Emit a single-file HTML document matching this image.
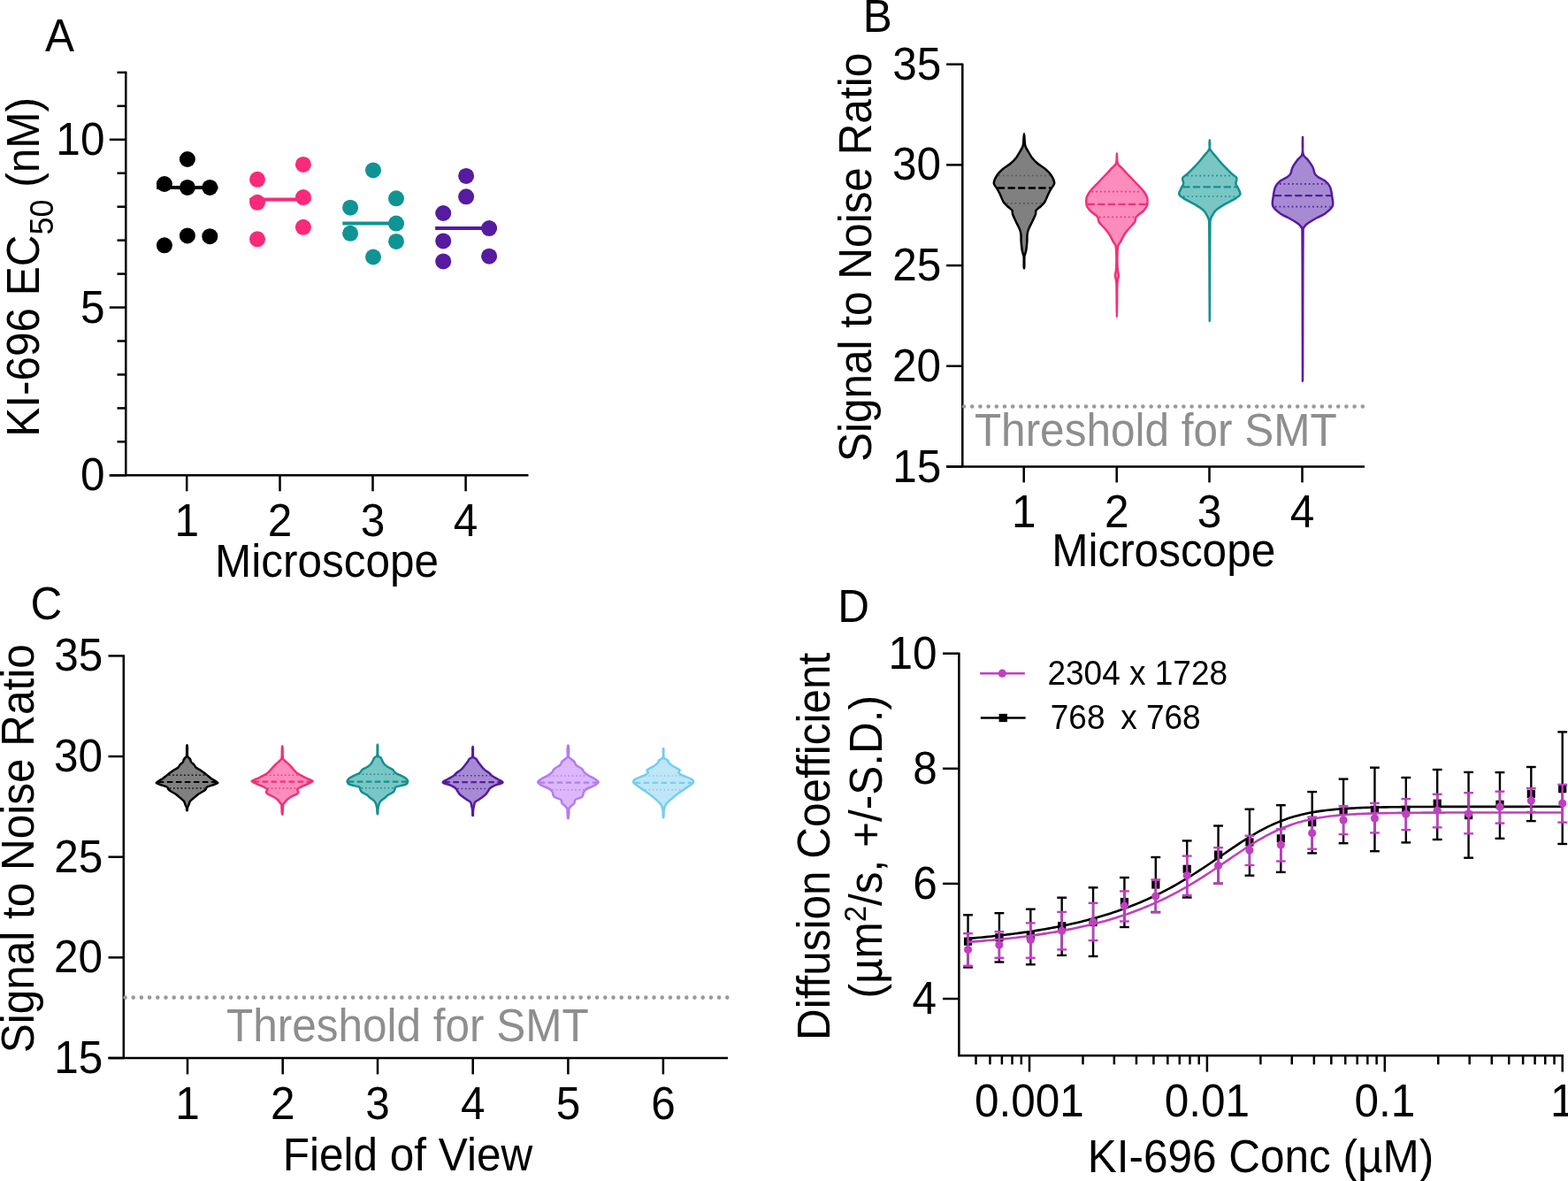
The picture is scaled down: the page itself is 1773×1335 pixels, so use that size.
<!DOCTYPE html>
<html><head><meta charset="utf-8"><title>Figure</title>
<style>
html,body{margin:0;padding:0;background:#fff;}
body{width:1773px;height:1335px;overflow:hidden;}
svg{display:block;font-family:'Liberation Sans', Arial, Helvetica, sans-serif;}
text{white-space:pre;}
</style></head>
<body>
<svg width="1773" height="1335" viewBox="0 0 1773 1335">
<rect width="1773" height="1335" fill="#fff"/>
<line x1="142.30" y1="80.85" x2="142.30" y2="537.30" stroke="#000" stroke-width="2.5"/>
<line x1="123.80" y1="537.30" x2="142.30" y2="537.30" stroke="#000" stroke-width="2.5"/>
<line x1="132.50" y1="499.35" x2="142.30" y2="499.35" stroke="#000" stroke-width="2.5"/>
<line x1="132.50" y1="461.40" x2="142.30" y2="461.40" stroke="#000" stroke-width="2.5"/>
<line x1="132.50" y1="423.45" x2="142.30" y2="423.45" stroke="#000" stroke-width="2.5"/>
<line x1="132.50" y1="385.50" x2="142.30" y2="385.50" stroke="#000" stroke-width="2.5"/>
<line x1="123.80" y1="347.55" x2="142.30" y2="347.55" stroke="#000" stroke-width="2.5"/>
<line x1="132.50" y1="309.60" x2="142.30" y2="309.60" stroke="#000" stroke-width="2.5"/>
<line x1="132.50" y1="271.65" x2="142.30" y2="271.65" stroke="#000" stroke-width="2.5"/>
<line x1="132.50" y1="233.70" x2="142.30" y2="233.70" stroke="#000" stroke-width="2.5"/>
<line x1="132.50" y1="195.75" x2="142.30" y2="195.75" stroke="#000" stroke-width="2.5"/>
<line x1="123.80" y1="157.80" x2="142.30" y2="157.80" stroke="#000" stroke-width="2.5"/>
<line x1="132.50" y1="119.85" x2="142.30" y2="119.85" stroke="#000" stroke-width="2.5"/>
<line x1="132.50" y1="81.90" x2="142.30" y2="81.90" stroke="#000" stroke-width="2.5"/>
<line x1="123.80" y1="537.30" x2="597.50" y2="537.30" stroke="#000" stroke-width="2.5"/>
<line x1="211.20" y1="537.30" x2="211.20" y2="555.30" stroke="#000" stroke-width="2.5"/>
<text transform="translate(197.44,606.00) scale(1,1.04)" font-size="49.5" fill="#000">1</text>
<line x1="316.50" y1="537.30" x2="316.50" y2="555.30" stroke="#000" stroke-width="2.5"/>
<text transform="translate(302.74,606.00) scale(1,1.04)" font-size="49.5" fill="#000">2</text>
<line x1="421.50" y1="537.30" x2="421.50" y2="555.30" stroke="#000" stroke-width="2.5"/>
<text transform="translate(407.74,606.00) scale(1,1.04)" font-size="49.5" fill="#000">3</text>
<line x1="526.60" y1="537.30" x2="526.60" y2="555.30" stroke="#000" stroke-width="2.5"/>
<text transform="translate(512.84,606.00) scale(1,1.04)" font-size="49.5" fill="#000">4</text>
<text transform="translate(90.90,554.30) scale(1,1.04)" font-size="49.5" fill="#000">0</text>
<text transform="translate(91.05,364.55) scale(1,1.04)" font-size="49.5" fill="#000">5</text>
<text transform="translate(63.37,174.80) scale(1,1.04)" font-size="49.5" fill="#000">10</text>
<text transform="translate(243.03,651.80) scale(1,1.04)" font-size="49.5" fill="#000">Microscope</text>
<text transform="translate(51.10,57.50) scale(1,1.04)" font-size="49.5" fill="#000">A</text>
<text transform="translate(44.00,493.76) rotate(-90) scale(1,1.04)" fill="#000"><tspan font-size="49.5" dy="0">KI-696 EC</tspan><tspan font-size="36" dy="15.6">50</tspan><tspan font-size="49.5" dy="-15.6"> (nM)</tspan></text>
<line x1="177.10" y1="211.90" x2="246.40" y2="211.90" stroke="#000000" stroke-width="4.0"/>
<circle cx="211.9" cy="180.0" r="9.0" fill="#000000"/>
<circle cx="185.9" cy="208.0" r="9.0" fill="#000000"/>
<circle cx="211.9" cy="211.9" r="9.0" fill="#000000"/>
<circle cx="237.3" cy="211.9" r="9.0" fill="#000000"/>
<circle cx="185.9" cy="277.3" r="9.0" fill="#000000"/>
<circle cx="211.9" cy="266.4" r="9.0" fill="#000000"/>
<circle cx="237.3" cy="267.2" r="9.0" fill="#000000"/>
<line x1="282.20" y1="225.60" x2="351.50" y2="225.60" stroke="#F92A79" stroke-width="4.0"/>
<circle cx="291.0" cy="202.8" r="9.0" fill="#F92A79"/>
<circle cx="342.9" cy="185.9" r="9.0" fill="#F92A79"/>
<circle cx="291.0" cy="228.8" r="9.0" fill="#F92A79"/>
<circle cx="342.9" cy="223.1" r="9.0" fill="#F92A79"/>
<circle cx="342.9" cy="256.8" r="9.0" fill="#F92A79"/>
<circle cx="291.0" cy="270.3" r="9.0" fill="#F92A79"/>
<line x1="387.30" y1="252.60" x2="456.60" y2="252.60" stroke="#0F9494" stroke-width="4.0"/>
<circle cx="422.0" cy="192.4" r="9.0" fill="#0F9494"/>
<circle cx="396.1" cy="234.7" r="9.0" fill="#0F9494"/>
<circle cx="448.0" cy="224.3" r="9.0" fill="#0F9494"/>
<circle cx="448.0" cy="252.6" r="9.0" fill="#0F9494"/>
<circle cx="396.1" cy="263.8" r="9.0" fill="#0F9494"/>
<circle cx="448.0" cy="272.9" r="9.0" fill="#0F9494"/>
<circle cx="422.0" cy="290.5" r="9.0" fill="#0F9494"/>
<line x1="492.10" y1="258.10" x2="561.60" y2="258.10" stroke="#561BA0" stroke-width="4.0"/>
<circle cx="527.1" cy="198.9" r="9.0" fill="#561BA0"/>
<circle cx="527.1" cy="222.3" r="9.0" fill="#561BA0"/>
<circle cx="501.2" cy="241.0" r="9.0" fill="#561BA0"/>
<circle cx="553.1" cy="258.1" r="9.0" fill="#561BA0"/>
<circle cx="501.2" cy="272.4" r="9.0" fill="#561BA0"/>
<circle cx="553.1" cy="289.7" r="9.0" fill="#561BA0"/>
<circle cx="501.2" cy="295.4" r="9.0" fill="#561BA0"/>
<line x1="1088.30" y1="71.65" x2="1088.30" y2="527.50" stroke="#000" stroke-width="2.5"/>
<line x1="1070.10" y1="527.50" x2="1088.30" y2="527.50" stroke="#000" stroke-width="2.5"/>
<text transform="translate(1009.22,544.50) scale(1,1.04)" font-size="49.5" fill="#000">15</text>
<line x1="1070.10" y1="413.80" x2="1088.30" y2="413.80" stroke="#000" stroke-width="2.5"/>
<text transform="translate(1009.07,430.80) scale(1,1.04)" font-size="49.5" fill="#000">20</text>
<line x1="1070.10" y1="300.10" x2="1088.30" y2="300.10" stroke="#000" stroke-width="2.5"/>
<text transform="translate(1009.22,317.10) scale(1,1.04)" font-size="49.5" fill="#000">25</text>
<line x1="1070.10" y1="186.40" x2="1088.30" y2="186.40" stroke="#000" stroke-width="2.5"/>
<text transform="translate(1009.07,203.40) scale(1,1.04)" font-size="49.5" fill="#000">30</text>
<line x1="1070.10" y1="72.70" x2="1088.30" y2="72.70" stroke="#000" stroke-width="2.5"/>
<text transform="translate(1009.22,89.70) scale(1,1.04)" font-size="49.5" fill="#000">35</text>
<line x1="1070.10" y1="527.50" x2="1543.00" y2="527.50" stroke="#000" stroke-width="2.5"/>
<line x1="1157.70" y1="527.50" x2="1157.70" y2="545.40" stroke="#000" stroke-width="2.5"/>
<text transform="translate(1143.94,596.00) scale(1,1.04)" font-size="49.5" fill="#000">1</text>
<line x1="1262.70" y1="527.50" x2="1262.70" y2="545.40" stroke="#000" stroke-width="2.5"/>
<text transform="translate(1248.94,596.00) scale(1,1.04)" font-size="49.5" fill="#000">2</text>
<line x1="1367.50" y1="527.50" x2="1367.50" y2="545.40" stroke="#000" stroke-width="2.5"/>
<text transform="translate(1353.74,596.00) scale(1,1.04)" font-size="49.5" fill="#000">3</text>
<line x1="1472.50" y1="527.50" x2="1472.50" y2="545.40" stroke="#000" stroke-width="2.5"/>
<text transform="translate(1458.74,596.00) scale(1,1.04)" font-size="49.5" fill="#000">4</text>
<text transform="translate(1189.18,640.10) scale(1,1.04)" font-size="49.5" fill="#000">Microscope</text>
<text transform="translate(975.74,36.00) scale(1,1.04)" font-size="49.5" fill="#000">B</text>
<text transform="translate(985.20,521.95) rotate(-90) scale(1,1.04)" fill="#000"><tspan font-size="49.5" dy="0">Signal to Noise Ratio</tspan></text>
<line x1="1090.00" y1="459.50" x2="1545.00" y2="459.50" stroke="#999999" stroke-width="4.6" stroke-linecap="round" stroke-dasharray="0 9.2"/>
<text transform="translate(1101.89,503.60) scale(1,1.04)" font-size="49.5" fill="#8E8E8E">Threshold for SMT</text>
<path d="M1158.00,151.32 C1158.40,151.32 1158.45,160.92 1159.20,164.20 C1159.95,167.48 1161.12,168.53 1162.50,171.00 C1163.88,173.47 1165.67,176.67 1167.50,179.00 C1169.33,181.33 1171.08,183.00 1173.50,185.00 C1175.92,187.00 1179.50,188.83 1182.00,191.00 C1184.50,193.17 1186.80,195.35 1188.50,198.00 C1190.20,200.65 1192.12,204.47 1192.20,206.90 C1192.28,209.33 1190.12,210.58 1189.00,212.60 C1187.88,214.62 1186.75,216.43 1185.50,219.00 C1184.25,221.57 1182.92,225.67 1181.50,228.00 C1180.08,230.33 1178.67,231.33 1177.00,233.00 C1175.33,234.67 1172.50,236.50 1171.50,238.00 C1170.50,239.50 1171.67,240.00 1171.00,242.00 C1170.33,244.00 1168.58,247.67 1167.50,250.00 C1166.42,252.33 1165.35,254.17 1164.50,256.00 C1163.65,257.83 1162.90,259.33 1162.40,261.00 C1161.90,262.67 1161.67,264.17 1161.50,266.00 C1161.33,267.83 1161.53,269.67 1161.40,272.00 C1161.27,274.33 1160.97,277.83 1160.70,280.00 C1160.43,282.17 1160.15,283.50 1159.80,285.00 C1159.45,286.50 1158.85,287.83 1158.60,289.00 C1158.35,290.17 1158.36,289.80 1158.30,292.00 C1158.24,294.20 1158.34,300.48 1158.25,302.18 C1158.16,303.87 1157.84,303.87 1157.75,302.18 C1157.66,300.48 1157.76,294.20 1157.70,292.00 C1157.64,289.80 1157.65,290.17 1157.40,289.00 C1157.15,287.83 1156.55,286.50 1156.20,285.00 C1155.85,283.50 1155.57,282.17 1155.30,280.00 C1155.03,277.83 1154.73,274.33 1154.60,272.00 C1154.47,269.67 1154.67,267.83 1154.50,266.00 C1154.33,264.17 1154.10,262.67 1153.60,261.00 C1153.10,259.33 1152.35,257.83 1151.50,256.00 C1150.65,254.17 1149.58,252.33 1148.50,250.00 C1147.42,247.67 1145.67,244.00 1145.00,242.00 C1144.33,240.00 1145.50,239.50 1144.50,238.00 C1143.50,236.50 1140.67,234.67 1139.00,233.00 C1137.33,231.33 1135.92,230.33 1134.50,228.00 C1133.08,225.67 1131.75,221.57 1130.50,219.00 C1129.25,216.43 1128.12,214.62 1127.00,212.60 C1125.88,210.58 1123.72,209.33 1123.80,206.90 C1123.88,204.47 1125.80,200.65 1127.50,198.00 C1129.20,195.35 1131.50,193.17 1134.00,191.00 C1136.50,188.83 1140.08,187.00 1142.50,185.00 C1144.92,183.00 1146.67,181.33 1148.50,179.00 C1150.33,176.67 1152.12,173.47 1153.50,171.00 C1154.88,168.53 1156.05,167.48 1156.80,164.20 C1157.55,160.92 1157.60,151.32 1158.00,151.32 Z" fill="#808080" stroke="#000000" stroke-width="2.5" stroke-linejoin="round"/>
<line x1="1127.94" y1="212.50" x2="1188.06" y2="212.50" stroke="#000" stroke-width="2.3" stroke-dasharray="8.2 3.4"/>
<line x1="1129.29" y1="198.50" x2="1186.71" y2="198.50" stroke="#555555" stroke-width="1.7" stroke-dasharray="1.7 3.0"/>
<line x1="1138.21" y1="229.90" x2="1177.79" y2="229.90" stroke="#555555" stroke-width="1.7" stroke-dasharray="1.7 3.0"/>
<path d="M1262.90,173.62 C1263.17,173.62 1262.70,181.70 1263.70,184.50 C1264.70,187.30 1267.23,188.57 1268.90,190.40 C1270.57,192.23 1271.95,193.65 1273.70,195.50 C1275.45,197.35 1277.37,199.35 1279.40,201.50 C1281.43,203.65 1283.90,206.32 1285.90,208.40 C1287.90,210.48 1289.93,212.32 1291.40,214.00 C1292.87,215.68 1293.75,216.93 1294.70,218.50 C1295.65,220.07 1296.63,221.82 1297.10,223.40 C1297.57,224.98 1297.52,226.50 1297.50,228.00 C1297.48,229.50 1297.43,231.07 1297.00,232.40 C1296.57,233.73 1295.78,234.82 1294.90,236.00 C1294.02,237.18 1293.37,238.00 1291.70,239.50 C1290.03,241.00 1286.33,243.08 1284.90,245.00 C1283.47,246.92 1284.52,248.75 1283.10,251.00 C1281.68,253.25 1278.38,256.12 1276.40,258.50 C1274.42,260.88 1272.78,262.80 1271.20,265.30 C1269.62,267.80 1268.08,271.30 1266.90,273.50 C1265.72,275.70 1264.68,275.75 1264.10,278.50 C1263.52,281.25 1263.50,286.42 1263.40,290.00 C1263.30,293.58 1263.42,297.33 1263.50,300.00 C1263.58,302.67 1263.67,304.08 1263.90,306.00 C1264.13,307.92 1264.90,309.83 1264.90,311.50 C1264.90,313.17 1264.17,314.22 1263.90,316.00 C1263.63,317.78 1263.43,318.20 1263.30,322.20 C1263.17,326.20 1263.17,333.95 1263.10,340.00 C1263.03,346.05 1262.97,358.48 1262.90,358.48 C1262.83,358.48 1262.77,346.05 1262.70,340.00 C1262.63,333.95 1262.63,326.20 1262.50,322.20 C1262.37,318.20 1262.17,317.78 1261.90,316.00 C1261.63,314.22 1260.90,313.17 1260.90,311.50 C1260.90,309.83 1261.67,307.92 1261.90,306.00 C1262.13,304.08 1262.22,302.67 1262.30,300.00 C1262.38,297.33 1262.50,293.58 1262.40,290.00 C1262.30,286.42 1262.28,281.25 1261.70,278.50 C1261.12,275.75 1260.08,275.70 1258.90,273.50 C1257.72,271.30 1256.18,267.80 1254.60,265.30 C1253.02,262.80 1251.38,260.88 1249.40,258.50 C1247.42,256.12 1244.12,253.25 1242.70,251.00 C1241.28,248.75 1242.33,246.92 1240.90,245.00 C1239.47,243.08 1235.77,241.00 1234.10,239.50 C1232.43,238.00 1231.78,237.18 1230.90,236.00 C1230.02,234.82 1229.23,233.73 1228.80,232.40 C1228.37,231.07 1228.32,229.50 1228.30,228.00 C1228.28,226.50 1228.23,224.98 1228.70,223.40 C1229.17,221.82 1230.15,220.07 1231.10,218.50 C1232.05,216.93 1232.93,215.68 1234.40,214.00 C1235.87,212.32 1237.90,210.48 1239.90,208.40 C1241.90,206.32 1244.37,203.65 1246.40,201.50 C1248.43,199.35 1250.35,197.35 1252.10,195.50 C1253.85,193.65 1255.23,192.23 1256.90,190.40 C1258.57,188.57 1261.10,187.30 1262.10,184.50 C1263.10,181.70 1262.63,173.62 1262.90,173.62 Z" fill="#FB8CBC" stroke="#F23079" stroke-width="2.5" stroke-linejoin="round"/>
<line x1="1229.63" y1="230.90" x2="1296.17" y2="230.90" stroke="#F23079" stroke-width="2.3" stroke-dasharray="8.2 3.4"/>
<line x1="1234.49" y1="216.60" x2="1291.31" y2="216.60" stroke="#F23079" stroke-width="1.7" stroke-dasharray="1.7 3.0"/>
<line x1="1243.02" y1="245.40" x2="1282.78" y2="245.40" stroke="#F23079" stroke-width="1.7" stroke-dasharray="1.7 3.0"/>
<path d="M1367.80,158.53 C1367.90,158.53 1367.00,165.12 1368.10,168.10 C1369.20,171.08 1371.98,173.38 1374.40,176.40 C1376.82,179.42 1379.58,182.92 1382.60,186.20 C1385.62,189.48 1389.88,193.62 1392.50,196.10 C1395.12,198.58 1397.48,199.17 1398.30,201.10 C1399.12,203.03 1397.13,205.78 1397.40,207.70 C1397.67,209.62 1399.07,210.63 1399.90,212.60 C1400.73,214.57 1402.82,217.58 1402.40,219.50 C1401.98,221.42 1400.25,222.23 1397.40,224.10 C1394.55,225.97 1388.77,228.68 1385.30,230.70 C1381.83,232.72 1378.65,234.65 1376.60,236.20 C1374.55,237.75 1373.98,238.75 1373.00,240.00 C1372.02,241.25 1371.35,242.53 1370.70,243.70 C1370.05,244.87 1369.48,245.87 1369.10,247.00 C1368.72,248.13 1368.53,248.33 1368.40,250.50 C1368.27,252.67 1368.35,251.75 1368.30,260.00 C1368.25,268.25 1368.18,282.82 1368.10,300.00 C1368.02,317.18 1367.90,363.07 1367.80,363.07 C1367.70,363.07 1367.58,317.18 1367.50,300.00 C1367.42,282.82 1367.35,268.25 1367.30,260.00 C1367.25,251.75 1367.33,252.67 1367.20,250.50 C1367.07,248.33 1366.88,248.13 1366.50,247.00 C1366.12,245.87 1365.55,244.87 1364.90,243.70 C1364.25,242.53 1363.58,241.25 1362.60,240.00 C1361.62,238.75 1361.05,237.75 1359.00,236.20 C1356.95,234.65 1353.77,232.72 1350.30,230.70 C1346.83,228.68 1341.05,225.97 1338.20,224.10 C1335.35,222.23 1333.62,221.42 1333.20,219.50 C1332.78,217.58 1334.87,214.57 1335.70,212.60 C1336.53,210.63 1337.93,209.62 1338.20,207.70 C1338.47,205.78 1336.48,203.03 1337.30,201.10 C1338.12,199.17 1340.48,198.58 1343.10,196.10 C1345.72,193.62 1349.98,189.48 1353.00,186.20 C1356.02,182.92 1358.78,179.42 1361.20,176.40 C1363.62,173.38 1366.40,171.08 1367.50,168.10 C1368.60,165.12 1367.70,158.53 1367.80,158.53 Z" fill="#7AC6C5" stroke="#11918F" stroke-width="2.5" stroke-linejoin="round"/>
<line x1="1337.31" y1="211.40" x2="1398.29" y2="211.40" stroke="#11918F" stroke-width="2.3" stroke-dasharray="8.2 3.4"/>
<line x1="1342.20" y1="198.60" x2="1393.40" y2="198.60" stroke="#11918F" stroke-width="1.7" stroke-dasharray="1.7 3.0"/>
<line x1="1337.92" y1="222.00" x2="1397.68" y2="222.00" stroke="#11918F" stroke-width="1.7" stroke-dasharray="1.7 3.0"/>
<path d="M1473.00,154.93 C1473.13,154.93 1472.48,169.47 1473.40,173.70 C1474.32,177.93 1476.65,177.72 1478.50,180.30 C1480.35,182.88 1483.12,186.50 1484.50,189.20 C1485.88,191.90 1485.78,194.67 1486.80,196.50 C1487.82,198.33 1488.73,198.90 1490.60,200.20 C1492.47,201.50 1495.78,202.47 1498.00,204.30 C1500.22,206.13 1502.52,208.20 1503.90,211.20 C1505.28,214.20 1505.85,218.62 1506.30,222.30 C1506.75,225.98 1508.10,230.00 1506.60,233.30 C1505.10,236.60 1500.15,239.98 1497.30,242.10 C1494.45,244.22 1491.97,244.68 1489.50,246.00 C1487.03,247.32 1484.42,248.83 1482.50,250.00 C1480.58,251.17 1479.17,252.08 1478.00,253.00 C1476.83,253.92 1476.18,254.67 1475.50,255.50 C1474.82,256.33 1474.23,256.92 1473.90,258.00 C1473.57,259.08 1473.60,255.00 1473.50,262.00 C1473.40,269.00 1473.38,271.85 1473.30,300.00 C1473.22,328.15 1473.10,430.88 1473.00,430.88 C1472.90,430.88 1472.78,328.15 1472.70,300.00 C1472.62,271.85 1472.60,269.00 1472.50,262.00 C1472.40,255.00 1472.43,259.08 1472.10,258.00 C1471.77,256.92 1471.18,256.33 1470.50,255.50 C1469.82,254.67 1469.17,253.92 1468.00,253.00 C1466.83,252.08 1465.42,251.17 1463.50,250.00 C1461.58,248.83 1458.97,247.32 1456.50,246.00 C1454.03,244.68 1451.55,244.22 1448.70,242.10 C1445.85,239.98 1440.90,236.60 1439.40,233.30 C1437.90,230.00 1439.25,225.98 1439.70,222.30 C1440.15,218.62 1440.72,214.20 1442.10,211.20 C1443.48,208.20 1445.78,206.13 1448.00,204.30 C1450.22,202.47 1453.53,201.50 1455.40,200.20 C1457.27,198.90 1458.18,198.33 1459.20,196.50 C1460.22,194.67 1460.12,191.90 1461.50,189.20 C1462.88,186.50 1465.65,182.88 1467.50,180.30 C1469.35,177.72 1471.68,177.93 1472.60,173.70 C1473.52,169.47 1472.87,154.93 1473.00,154.93 Z" fill="#A68BD2" stroke="#561BA0" stroke-width="2.5" stroke-linejoin="round"/>
<line x1="1440.94" y1="221.20" x2="1505.06" y2="221.20" stroke="#561BA0" stroke-width="2.3" stroke-dasharray="8.2 3.4"/>
<line x1="1446.92" y1="207.90" x2="1499.08" y2="207.90" stroke="#561BA0" stroke-width="1.7" stroke-dasharray="1.7 3.0"/>
<line x1="1441.82" y1="233.70" x2="1504.18" y2="233.70" stroke="#561BA0" stroke-width="1.7" stroke-dasharray="1.7 3.0"/>
<line x1="139.80" y1="740.35" x2="139.80" y2="1196.00" stroke="#000" stroke-width="2.5"/>
<line x1="122.50" y1="1196.00" x2="139.80" y2="1196.00" stroke="#000" stroke-width="2.5"/>
<text transform="translate(61.22,1213.00) scale(1,1.04)" font-size="49.5" fill="#000">15</text>
<line x1="122.50" y1="1082.35" x2="139.80" y2="1082.35" stroke="#000" stroke-width="2.5"/>
<text transform="translate(61.07,1099.35) scale(1,1.04)" font-size="49.5" fill="#000">20</text>
<line x1="122.50" y1="968.70" x2="139.80" y2="968.70" stroke="#000" stroke-width="2.5"/>
<text transform="translate(61.22,985.70) scale(1,1.04)" font-size="49.5" fill="#000">25</text>
<line x1="122.50" y1="855.05" x2="139.80" y2="855.05" stroke="#000" stroke-width="2.5"/>
<text transform="translate(61.07,872.05) scale(1,1.04)" font-size="49.5" fill="#000">30</text>
<line x1="122.50" y1="741.40" x2="139.80" y2="741.40" stroke="#000" stroke-width="2.5"/>
<text transform="translate(61.22,758.40) scale(1,1.04)" font-size="49.5" fill="#000">35</text>
<line x1="122.50" y1="1196.00" x2="823.00" y2="1196.00" stroke="#000" stroke-width="2.5"/>
<line x1="212.00" y1="1196.00" x2="212.00" y2="1214.40" stroke="#000" stroke-width="2.5"/>
<text transform="translate(198.24,1264.60) scale(1,1.04)" font-size="49.5" fill="#000">1</text>
<line x1="319.70" y1="1196.00" x2="319.70" y2="1214.40" stroke="#000" stroke-width="2.5"/>
<text transform="translate(305.94,1264.60) scale(1,1.04)" font-size="49.5" fill="#000">2</text>
<line x1="427.00" y1="1196.00" x2="427.00" y2="1214.40" stroke="#000" stroke-width="2.5"/>
<text transform="translate(413.24,1264.60) scale(1,1.04)" font-size="49.5" fill="#000">3</text>
<line x1="534.70" y1="1196.00" x2="534.70" y2="1214.40" stroke="#000" stroke-width="2.5"/>
<text transform="translate(520.94,1264.60) scale(1,1.04)" font-size="49.5" fill="#000">4</text>
<line x1="642.40" y1="1196.00" x2="642.40" y2="1214.40" stroke="#000" stroke-width="2.5"/>
<text transform="translate(628.64,1264.60) scale(1,1.04)" font-size="49.5" fill="#000">5</text>
<line x1="749.90" y1="1196.00" x2="749.90" y2="1214.40" stroke="#000" stroke-width="2.5"/>
<text transform="translate(736.14,1264.60) scale(1,1.04)" font-size="49.5" fill="#000">6</text>
<text transform="translate(319.83,1323.00) scale(1,1.04)" font-size="49.5" fill="#000">Field of View</text>
<text transform="translate(34.39,699.50) scale(1,1.04)" font-size="49.5" fill="#000">C</text>
<text transform="translate(37.60,1190.25) rotate(-90) scale(1,1.04)" fill="#000"><tspan font-size="49.5" dy="0">Signal to Noise Ratio</tspan></text>
<line x1="141.50" y1="1127.60" x2="826.00" y2="1127.60" stroke="#999999" stroke-width="4.6" stroke-linecap="round" stroke-dasharray="0 9.2"/>
<text transform="translate(255.99,1177.00) scale(1,1.04)" font-size="49.5" fill="#8E8E8E">Threshold for SMT</text>
<path d="M211.80,843.52 C211.92,845.27 211.70,851.92 211.90,854.00 C212.10,856.08 212.45,855.25 213.00,856.00 C213.55,856.75 214.68,857.60 215.20,858.50 C215.72,859.40 215.45,860.48 216.10,861.40 C216.75,862.32 218.15,862.93 219.10,864.00 C220.05,865.07 220.63,866.75 221.80,867.80 C222.97,868.85 224.57,869.32 226.10,870.30 C227.63,871.28 229.40,872.50 231.00,873.70 C232.60,874.90 234.28,876.37 235.70,877.50 C237.12,878.63 238.28,879.67 239.50,880.50 C240.72,881.33 241.97,881.85 243.00,882.50 C244.03,883.15 245.25,883.93 245.70,884.40 C246.15,884.87 246.65,884.77 245.70,885.30 C244.75,885.83 241.95,886.87 240.00,887.60 C238.05,888.33 235.25,888.92 234.00,889.70 C232.75,890.48 233.28,891.45 232.50,892.30 C231.72,893.15 230.68,893.88 229.30,894.80 C227.92,895.72 225.90,896.60 224.20,897.80 C222.50,899.00 220.62,900.73 219.10,902.00 C217.58,903.27 216.03,904.13 215.10,905.40 C214.17,906.67 214.02,908.33 213.50,909.60 C212.98,910.87 212.28,911.95 212.00,913.00 C211.72,914.05 211.93,915.40 211.80,915.88 C211.67,916.35 211.33,916.35 211.20,915.88 C211.07,915.40 211.28,914.05 211.00,913.00 C210.72,911.95 210.02,910.87 209.50,909.60 C208.98,908.33 208.83,906.67 207.90,905.40 C206.97,904.13 205.42,903.27 203.90,902.00 C202.38,900.73 200.50,899.00 198.80,897.80 C197.10,896.60 195.08,895.72 193.70,894.80 C192.32,893.88 191.28,893.15 190.50,892.30 C189.72,891.45 190.25,890.48 189.00,889.70 C187.75,888.92 184.95,888.33 183.00,887.60 C181.05,886.87 178.25,885.83 177.30,885.30 C176.35,884.77 176.85,884.87 177.30,884.40 C177.75,883.93 178.97,883.15 180.00,882.50 C181.03,881.85 182.28,881.33 183.50,880.50 C184.72,879.67 185.88,878.63 187.30,877.50 C188.72,876.37 190.40,874.90 192.00,873.70 C193.60,872.50 195.37,871.28 196.90,870.30 C198.43,869.32 200.03,868.85 201.20,867.80 C202.37,866.75 202.95,865.07 203.90,864.00 C204.85,862.93 206.25,862.32 206.90,861.40 C207.55,860.48 207.28,859.40 207.80,858.50 C208.32,857.60 209.45,856.75 210.00,856.00 C210.55,855.25 210.90,856.08 211.10,854.00 C211.30,851.92 211.08,845.27 211.20,843.52 C211.32,841.78 211.68,841.78 211.80,843.52 Z" fill="#808080" stroke="#000000" stroke-width="2.5" stroke-linejoin="round"/>
<line x1="178.87" y1="884.00" x2="244.13" y2="884.00" stroke="#000000" stroke-width="2.2" stroke-dasharray="6.5 3.5"/>
<line x1="190.91" y1="876.20" x2="232.09" y2="876.20" stroke="#000000" stroke-width="1.5" stroke-dasharray="1.5 2.8"/>
<line x1="191.75" y1="891.00" x2="231.25" y2="891.00" stroke="#000000" stroke-width="1.5" stroke-dasharray="1.5 2.8"/>
<path d="M319.50,844.73 C319.65,846.60 319.52,853.60 319.80,856.00 C320.08,858.40 320.02,857.73 321.20,859.10 C322.38,860.47 325.27,862.60 326.90,864.20 C328.53,865.80 329.67,867.22 331.00,868.70 C332.33,870.18 333.40,871.83 334.90,873.10 C336.40,874.37 338.12,875.23 340.00,876.30 C341.88,877.37 344.03,878.43 346.20,879.50 C348.37,880.57 351.87,882.03 353.00,882.70 C354.13,883.37 353.68,882.97 353.00,883.50 C352.32,884.03 350.65,885.08 348.90,885.90 C347.15,886.72 344.20,887.63 342.50,888.40 C340.80,889.17 339.78,889.87 338.70,890.50 C337.62,891.13 336.20,891.38 336.00,892.20 C335.80,893.02 337.48,894.55 337.50,895.40 C337.52,896.25 337.43,896.45 336.10,897.30 C334.77,898.15 331.38,899.43 329.50,900.50 C327.62,901.57 325.93,902.75 324.80,903.70 C323.67,904.65 323.47,905.25 322.70,906.20 C321.93,907.15 320.67,908.27 320.20,909.40 C319.73,910.53 320.02,911.25 319.90,913.00 C319.78,914.75 319.67,918.73 319.50,919.88 C319.33,921.02 319.07,921.02 318.90,919.88 C318.73,918.73 318.62,914.75 318.50,913.00 C318.38,911.25 318.67,910.53 318.20,909.40 C317.73,908.27 316.47,907.15 315.70,906.20 C314.93,905.25 314.73,904.65 313.60,903.70 C312.47,902.75 310.78,901.57 308.90,900.50 C307.02,899.43 303.63,898.15 302.30,897.30 C300.97,896.45 300.88,896.25 300.90,895.40 C300.92,894.55 302.60,893.02 302.40,892.20 C302.20,891.38 300.78,891.13 299.70,890.50 C298.62,889.87 297.60,889.17 295.90,888.40 C294.20,887.63 291.25,886.72 289.50,885.90 C287.75,885.08 286.08,884.03 285.40,883.50 C284.72,882.97 284.27,883.37 285.40,882.70 C286.53,882.03 290.03,880.57 292.20,879.50 C294.37,878.43 296.52,877.37 298.40,876.30 C300.28,875.23 302.00,874.37 303.50,873.10 C305.00,871.83 306.07,870.18 307.40,868.70 C308.73,867.22 309.87,865.80 311.50,864.20 C313.13,862.60 316.02,860.47 317.20,859.10 C318.38,857.73 318.32,858.40 318.60,856.00 C318.88,853.60 318.75,846.60 318.90,844.73 C319.05,842.85 319.35,842.85 319.50,844.73 Z" fill="#FB8CBC" stroke="#F23079" stroke-width="2.5" stroke-linejoin="round"/>
<line x1="286.57" y1="883.60" x2="351.83" y2="883.60" stroke="#F23079" stroke-width="2.2" stroke-dasharray="6.5 3.5"/>
<line x1="300.56" y1="876.20" x2="337.84" y2="876.20" stroke="#F23079" stroke-width="1.5" stroke-dasharray="1.5 2.8"/>
<line x1="302.49" y1="891.00" x2="335.91" y2="891.00" stroke="#F23079" stroke-width="1.5" stroke-dasharray="1.5 2.8"/>
<path d="M427.20,842.92 C427.33,844.75 426.83,851.64 427.40,853.90 C427.97,856.16 429.82,855.53 430.60,856.50 C431.38,857.47 431.48,858.53 432.10,859.70 C432.72,860.87 433.30,862.33 434.30,863.50 C435.30,864.67 436.50,865.65 438.10,866.70 C439.70,867.75 442.40,868.63 443.90,869.80 C445.40,870.97 445.47,872.52 447.10,873.70 C448.73,874.88 451.70,875.85 453.70,876.90 C455.70,877.95 457.87,878.83 459.10,880.00 C460.33,881.17 461.32,882.73 461.10,883.90 C460.88,885.07 460.05,886.05 457.80,887.00 C455.55,887.95 449.47,888.75 447.60,889.60 C445.73,890.45 447.07,891.15 446.60,892.10 C446.13,893.05 446.07,894.23 444.80,895.30 C443.53,896.37 440.55,897.43 439.00,898.50 C437.45,899.57 436.78,900.63 435.50,901.70 C434.22,902.77 432.40,903.83 431.30,904.90 C430.20,905.97 429.45,907.05 428.90,908.10 C428.35,909.15 428.23,910.22 428.00,911.20 C427.77,912.18 427.63,912.59 427.50,914.00 C427.37,915.41 427.35,918.73 427.20,919.67 C427.05,920.62 426.75,920.62 426.60,919.67 C426.45,918.73 426.43,915.41 426.30,914.00 C426.17,912.59 426.03,912.18 425.80,911.20 C425.57,910.22 425.45,909.15 424.90,908.10 C424.35,907.05 423.60,905.97 422.50,904.90 C421.40,903.83 419.58,902.77 418.30,901.70 C417.02,900.63 416.35,899.57 414.80,898.50 C413.25,897.43 410.27,896.37 409.00,895.30 C407.73,894.23 407.67,893.05 407.20,892.10 C406.73,891.15 408.07,890.45 406.20,889.60 C404.33,888.75 398.25,887.95 396.00,887.00 C393.75,886.05 392.92,885.07 392.70,883.90 C392.48,882.73 393.47,881.17 394.70,880.00 C395.93,878.83 398.10,877.95 400.10,876.90 C402.10,875.85 405.07,874.88 406.70,873.70 C408.33,872.52 408.40,870.97 409.90,869.80 C411.40,868.63 414.10,867.75 415.70,866.70 C417.30,865.65 418.50,864.67 419.50,863.50 C420.50,862.33 421.08,860.87 421.70,859.70 C422.32,858.53 422.42,857.47 423.20,856.50 C423.98,855.53 425.83,856.16 426.40,853.90 C426.97,851.64 426.47,844.75 426.60,842.92 C426.73,841.10 427.07,841.10 427.20,842.92 Z" fill="#7AC6C5" stroke="#11918F" stroke-width="2.5" stroke-linejoin="round"/>
<line x1="393.80" y1="883.70" x2="460.00" y2="883.70" stroke="#11918F" stroke-width="2.2" stroke-dasharray="6.5 3.5"/>
<line x1="405.40" y1="875.30" x2="448.40" y2="875.30" stroke="#11918F" stroke-width="1.5" stroke-dasharray="1.5 2.8"/>
<line x1="408.68" y1="890.80" x2="445.12" y2="890.80" stroke="#11918F" stroke-width="1.5" stroke-dasharray="1.5 2.8"/>
<path d="M534.90,845.23 C535.03,846.90 534.50,853.20 535.10,855.30 C535.70,857.40 537.62,856.85 538.50,857.80 C539.38,858.75 539.50,859.72 540.40,861.00 C541.30,862.28 542.68,864.02 543.90,865.50 C545.12,866.98 546.17,868.52 547.70,869.90 C549.23,871.28 551.52,872.52 553.10,873.80 C554.68,875.08 555.57,876.43 557.20,877.60 C558.83,878.77 561.03,879.63 562.90,880.80 C564.77,881.97 568.98,883.43 568.40,884.60 C567.82,885.77 561.78,886.73 559.40,887.80 C557.02,888.87 555.33,889.95 554.10,891.00 C552.87,892.05 552.70,893.05 552.00,894.10 C551.30,895.15 550.88,896.23 549.90,897.30 C548.92,898.37 547.47,899.43 546.10,900.50 C544.73,901.57 543.18,902.63 541.70,903.70 C540.22,904.77 538.13,905.83 537.20,906.90 C536.27,907.97 536.47,908.52 536.10,910.10 C535.73,911.68 535.20,914.50 535.00,916.40 C534.80,918.30 535.02,920.63 534.90,921.48 C534.78,922.32 534.42,922.32 534.30,921.48 C534.18,920.63 534.40,918.30 534.20,916.40 C534.00,914.50 533.47,911.68 533.10,910.10 C532.73,908.52 532.93,907.97 532.00,906.90 C531.07,905.83 528.98,904.77 527.50,903.70 C526.02,902.63 524.47,901.57 523.10,900.50 C521.73,899.43 520.28,898.37 519.30,897.30 C518.32,896.23 517.90,895.15 517.20,894.10 C516.50,893.05 516.33,892.05 515.10,891.00 C513.87,889.95 512.18,888.87 509.80,887.80 C507.42,886.73 501.38,885.77 500.80,884.60 C500.22,883.43 504.43,881.97 506.30,880.80 C508.17,879.63 510.37,878.77 512.00,877.60 C513.63,876.43 514.52,875.08 516.10,873.80 C517.68,872.52 519.97,871.28 521.50,869.90 C523.03,868.52 524.08,866.98 525.30,865.50 C526.52,864.02 527.90,862.28 528.80,861.00 C529.70,859.72 529.82,858.75 530.70,857.80 C531.58,856.85 533.50,857.40 534.10,855.30 C534.70,853.20 534.17,846.90 534.30,845.23 C534.43,843.55 534.77,843.55 534.90,845.23 Z" fill="#A68BD2" stroke="#561BA0" stroke-width="2.5" stroke-linejoin="round"/>
<line x1="502.38" y1="884.20" x2="566.82" y2="884.20" stroke="#561BA0" stroke-width="2.2" stroke-dasharray="6.5 3.5"/>
<line x1="514.86" y1="876.80" x2="554.34" y2="876.80" stroke="#561BA0" stroke-width="1.5" stroke-dasharray="1.5 2.8"/>
<line x1="517.37" y1="891.40" x2="551.83" y2="891.40" stroke="#561BA0" stroke-width="1.5" stroke-dasharray="1.5 2.8"/>
<path d="M642.80,843.42 C643.00,844.50 643.18,847.97 643.20,849.90 C643.22,851.83 642.67,853.80 642.90,855.00 C643.13,856.20 643.52,856.08 644.60,857.10 C645.68,858.12 648.23,859.78 649.40,861.10 C650.57,862.42 650.18,863.68 651.60,865.00 C653.02,866.32 656.42,867.67 657.90,869.00 C659.38,870.33 659.18,871.68 660.50,873.00 C661.82,874.32 663.87,875.70 665.80,876.90 C667.73,878.10 670.30,878.98 672.10,880.20 C673.90,881.42 676.67,882.88 676.60,884.20 C676.53,885.52 673.98,886.78 671.70,888.10 C669.42,889.42 664.87,890.78 662.90,892.10 C660.93,893.42 660.67,894.58 659.90,896.00 C659.13,897.42 659.83,899.28 658.30,900.60 C656.77,901.92 652.18,902.68 650.70,903.90 C649.22,905.12 650.22,906.68 649.40,907.90 C648.58,909.12 646.80,910.10 645.80,911.20 C644.80,912.30 643.83,913.18 643.40,914.50 C642.97,915.82 643.30,917.45 643.20,919.10 C643.10,920.75 643.00,923.50 642.80,924.38 C642.60,925.25 642.20,925.25 642.00,924.38 C641.80,923.50 641.70,920.75 641.60,919.10 C641.50,917.45 641.83,915.82 641.40,914.50 C640.97,913.18 640.00,912.30 639.00,911.20 C638.00,910.10 636.22,909.12 635.40,907.90 C634.58,906.68 635.58,905.12 634.10,903.90 C632.62,902.68 628.03,901.92 626.50,900.60 C624.97,899.28 625.67,897.42 624.90,896.00 C624.13,894.58 623.87,893.42 621.90,892.10 C619.93,890.78 615.38,889.42 613.10,888.10 C610.82,886.78 608.27,885.52 608.20,884.20 C608.13,882.88 610.90,881.42 612.70,880.20 C614.50,878.98 617.07,878.10 619.00,876.90 C620.93,875.70 622.98,874.32 624.30,873.00 C625.62,871.68 625.42,870.33 626.90,869.00 C628.38,867.67 631.78,866.32 633.20,865.00 C634.62,863.68 634.23,862.42 635.40,861.10 C636.57,859.78 639.12,858.12 640.20,857.10 C641.28,856.08 641.67,856.20 641.90,855.00 C642.13,853.80 641.58,851.83 641.60,849.90 C641.62,847.97 641.80,844.50 642.00,843.42 C642.20,842.35 642.60,842.35 642.80,843.42 Z" fill="#DCB8FB" stroke="#B27CF2" stroke-width="2.5" stroke-linejoin="round"/>
<line x1="609.70" y1="884.60" x2="675.10" y2="884.60" stroke="#B27CF2" stroke-width="2.2" stroke-dasharray="6.5 3.5"/>
<line x1="621.00" y1="876.90" x2="663.80" y2="876.90" stroke="#B27CF2" stroke-width="1.5" stroke-dasharray="1.5 2.8"/>
<line x1="624.36" y1="892.70" x2="660.44" y2="892.70" stroke="#B27CF2" stroke-width="1.5" stroke-dasharray="1.5 2.8"/>
<path d="M750.40,847.02 C750.53,848.55 749.85,854.14 750.60,856.20 C751.35,858.26 753.88,858.33 754.90,859.40 C755.92,860.47 755.57,861.42 756.70,862.60 C757.83,863.78 759.73,865.22 761.70,866.50 C763.67,867.78 767.53,869.12 768.50,870.30 C769.47,871.48 766.82,872.52 767.50,873.60 C768.18,874.68 770.23,875.63 772.60,876.80 C774.97,877.97 779.82,879.32 781.70,880.60 C783.58,881.88 784.33,883.20 783.90,884.50 C783.47,885.80 780.97,887.00 779.10,888.40 C777.23,889.80 774.85,891.40 772.70,892.90 C770.55,894.40 768.20,895.90 766.20,897.40 C764.20,898.90 762.47,900.40 760.70,901.90 C758.93,903.40 757.03,904.90 755.60,906.40 C754.17,907.90 752.90,909.28 752.10,910.90 C751.30,912.52 751.08,914.04 750.80,916.10 C750.52,918.16 750.57,922.08 750.40,923.27 C750.23,924.47 749.97,924.47 749.80,923.27 C749.63,922.08 749.68,918.16 749.40,916.10 C749.12,914.04 748.90,912.52 748.10,910.90 C747.30,909.28 746.03,907.90 744.60,906.40 C743.17,904.90 741.27,903.40 739.50,901.90 C737.73,900.40 736.00,898.90 734.00,897.40 C732.00,895.90 729.65,894.40 727.50,892.90 C725.35,891.40 722.97,889.80 721.10,888.40 C719.23,887.00 716.73,885.80 716.30,884.50 C715.87,883.20 716.62,881.88 718.50,880.60 C720.38,879.32 725.23,877.97 727.60,876.80 C729.97,875.63 732.02,874.68 732.70,873.60 C733.38,872.52 730.73,871.48 731.70,870.30 C732.67,869.12 736.53,867.78 738.50,866.50 C740.47,865.22 742.37,863.78 743.50,862.60 C744.63,861.42 744.28,860.47 745.30,859.40 C746.32,858.33 748.85,858.26 749.60,856.20 C750.35,854.14 749.67,848.55 749.80,847.02 C749.93,845.50 750.27,845.50 750.40,847.02 Z" fill="#BFE6F7" stroke="#74CEF0" stroke-width="2.5" stroke-linejoin="round"/>
<line x1="717.67" y1="884.80" x2="782.53" y2="884.80" stroke="#74CEF0" stroke-width="2.2" stroke-dasharray="6.5 3.5"/>
<line x1="729.36" y1="876.90" x2="770.84" y2="876.90" stroke="#74CEF0" stroke-width="1.5" stroke-dasharray="1.5 2.8"/>
<line x1="729.22" y1="892.70" x2="770.98" y2="892.70" stroke="#74CEF0" stroke-width="1.5" stroke-dasharray="1.5 2.8"/>
<line x1="1084.40" y1="737.65" x2="1084.40" y2="1193.30" stroke="#000" stroke-width="2.5"/>
<line x1="1066.00" y1="1129.00" x2="1084.40" y2="1129.00" stroke="#000" stroke-width="2.5"/>
<text transform="translate(1031.62,1146.00) scale(1,1.04)" font-size="49.5" fill="#000">4</text>
<line x1="1066.00" y1="998.90" x2="1084.40" y2="998.90" stroke="#000" stroke-width="2.5"/>
<text transform="translate(1032.35,1015.90) scale(1,1.04)" font-size="49.5" fill="#000">6</text>
<line x1="1066.00" y1="868.80" x2="1084.40" y2="868.80" stroke="#000" stroke-width="2.5"/>
<text transform="translate(1032.32,885.80) scale(1,1.04)" font-size="49.5" fill="#000">8</text>
<line x1="1066.00" y1="738.70" x2="1084.40" y2="738.70" stroke="#000" stroke-width="2.5"/>
<text transform="translate(1004.57,755.70) scale(1,1.04)" font-size="49.5" fill="#000">10</text>
<line x1="1083.15" y1="1193.30" x2="1768.00" y2="1193.30" stroke="#000" stroke-width="2.5"/>
<line x1="1103.52" y1="1193.30" x2="1103.52" y2="1203.30" stroke="#000" stroke-width="2.5"/>
<line x1="1119.43" y1="1193.30" x2="1119.43" y2="1203.30" stroke="#000" stroke-width="2.5"/>
<line x1="1132.88" y1="1193.30" x2="1132.88" y2="1203.30" stroke="#000" stroke-width="2.5"/>
<line x1="1144.53" y1="1193.30" x2="1144.53" y2="1203.30" stroke="#000" stroke-width="2.5"/>
<line x1="1154.81" y1="1193.30" x2="1154.81" y2="1203.30" stroke="#000" stroke-width="2.5"/>
<line x1="1164.00" y1="1193.30" x2="1164.00" y2="1211.60" stroke="#000" stroke-width="2.5"/>
<line x1="1224.48" y1="1193.30" x2="1224.48" y2="1203.30" stroke="#000" stroke-width="2.5"/>
<line x1="1259.85" y1="1193.30" x2="1259.85" y2="1203.30" stroke="#000" stroke-width="2.5"/>
<line x1="1284.95" y1="1193.30" x2="1284.95" y2="1203.30" stroke="#000" stroke-width="2.5"/>
<line x1="1304.42" y1="1193.30" x2="1304.42" y2="1203.30" stroke="#000" stroke-width="2.5"/>
<line x1="1320.33" y1="1193.30" x2="1320.33" y2="1203.30" stroke="#000" stroke-width="2.5"/>
<line x1="1333.78" y1="1193.30" x2="1333.78" y2="1203.30" stroke="#000" stroke-width="2.5"/>
<line x1="1345.43" y1="1193.30" x2="1345.43" y2="1203.30" stroke="#000" stroke-width="2.5"/>
<line x1="1355.71" y1="1193.30" x2="1355.71" y2="1203.30" stroke="#000" stroke-width="2.5"/>
<line x1="1364.90" y1="1193.30" x2="1364.90" y2="1211.60" stroke="#000" stroke-width="2.5"/>
<line x1="1425.38" y1="1193.30" x2="1425.38" y2="1203.30" stroke="#000" stroke-width="2.5"/>
<line x1="1460.75" y1="1193.30" x2="1460.75" y2="1203.30" stroke="#000" stroke-width="2.5"/>
<line x1="1485.85" y1="1193.30" x2="1485.85" y2="1203.30" stroke="#000" stroke-width="2.5"/>
<line x1="1505.32" y1="1193.30" x2="1505.32" y2="1203.30" stroke="#000" stroke-width="2.5"/>
<line x1="1521.23" y1="1193.30" x2="1521.23" y2="1203.30" stroke="#000" stroke-width="2.5"/>
<line x1="1534.68" y1="1193.30" x2="1534.68" y2="1203.30" stroke="#000" stroke-width="2.5"/>
<line x1="1546.33" y1="1193.30" x2="1546.33" y2="1203.30" stroke="#000" stroke-width="2.5"/>
<line x1="1556.61" y1="1193.30" x2="1556.61" y2="1203.30" stroke="#000" stroke-width="2.5"/>
<line x1="1565.80" y1="1193.30" x2="1565.80" y2="1211.60" stroke="#000" stroke-width="2.5"/>
<line x1="1626.28" y1="1193.30" x2="1626.28" y2="1203.30" stroke="#000" stroke-width="2.5"/>
<line x1="1661.65" y1="1193.30" x2="1661.65" y2="1203.30" stroke="#000" stroke-width="2.5"/>
<line x1="1686.75" y1="1193.30" x2="1686.75" y2="1203.30" stroke="#000" stroke-width="2.5"/>
<line x1="1706.22" y1="1193.30" x2="1706.22" y2="1203.30" stroke="#000" stroke-width="2.5"/>
<line x1="1722.13" y1="1193.30" x2="1722.13" y2="1203.30" stroke="#000" stroke-width="2.5"/>
<line x1="1735.58" y1="1193.30" x2="1735.58" y2="1203.30" stroke="#000" stroke-width="2.5"/>
<line x1="1747.23" y1="1193.30" x2="1747.23" y2="1203.30" stroke="#000" stroke-width="2.5"/>
<line x1="1757.51" y1="1193.30" x2="1757.51" y2="1203.30" stroke="#000" stroke-width="2.5"/>
<line x1="1766.70" y1="1193.30" x2="1766.70" y2="1211.60" stroke="#000" stroke-width="2.5"/>
<text transform="translate(1102.06,1262.00) scale(1,1.04)" font-size="49.5" fill="#000">0.001</text>
<text transform="translate(1316.73,1262.00) scale(1,1.04)" font-size="49.5" fill="#000">0.01</text>
<text transform="translate(1531.39,1262.00) scale(1,1.04)" font-size="49.5" fill="#000">0.1</text>
<text transform="translate(1752.94,1262.00) scale(1,1.04)" font-size="49.5" fill="#000">1</text>
<text transform="translate(1229.74,1324.70) scale(1,1.04)" font-size="49.5" fill="#000">KI-696 Conc (µM)</text>
<text transform="translate(947.14,702.70) scale(1,1.04)" font-size="49.5" fill="#000">D</text>
<text transform="translate(937.90,1176.06) rotate(-90) scale(1,1.04)" fill="#000"><tspan font-size="49.5" dy="0">Diffusion Coefficient</tspan></text>
<text transform="translate(996.50,1128.47) rotate(-90) scale(1,1.04)" fill="#000"><tspan font-size="49.5" dy="0">(µm</tspan><tspan font-size="33" dy="-17">2</tspan><tspan font-size="49.5" dy="17">/s, +/-S.D.)</tspan></text>
<line x1="1108.10" y1="761.20" x2="1158.90" y2="761.20" stroke="#C040C0" stroke-width="2.4"/>
<circle cx="1133.3" cy="761.2" r="4.6" fill="#C040C0"/>
<line x1="1108.80" y1="811.50" x2="1159.60" y2="811.50" stroke="#000" stroke-width="2.4"/>
<rect x="1129.6" y="806.9" width="9.4" height="9.2" fill="#000"/>
<text transform="translate(1184.44,774.30) scale(1,1.04)" font-size="37" fill="#000">2304 x 1728</text>
<text transform="translate(1187.80,824.20) scale(1,1.04)" font-size="37" fill="#000">768</text>
<text transform="translate(1267.18,824.20) scale(1,1.04)" font-size="37" fill="#000">x 768</text>
<path d="M1094.54,1060.92 L1097.90,1060.64 L1101.26,1060.35 L1104.62,1060.05 L1107.99,1059.74 L1111.35,1059.43 L1114.71,1059.10 L1118.07,1058.77 L1121.43,1058.42 L1124.79,1058.07 L1128.15,1057.71 L1131.51,1057.33 L1134.87,1056.94 L1138.23,1056.55 L1141.59,1056.14 L1144.95,1055.72 L1148.31,1055.29 L1151.68,1054.84 L1155.04,1054.38 L1158.40,1053.91 L1161.76,1053.43 L1165.12,1052.93 L1168.48,1052.42 L1171.84,1051.89 L1175.20,1051.35 L1178.56,1050.79 L1181.92,1050.21 L1185.28,1049.62 L1188.64,1049.02 L1192.00,1048.39 L1195.37,1047.75 L1198.73,1047.08 L1202.09,1046.40 L1205.45,1045.70 L1208.81,1044.98 L1212.17,1044.24 L1215.53,1043.48 L1218.89,1042.69 L1222.25,1041.89 L1225.61,1041.06 L1228.97,1040.20 L1232.33,1039.32 L1235.70,1038.42 L1239.06,1037.49 L1242.42,1036.54 L1245.78,1035.55 L1249.14,1034.54 L1252.50,1033.50 L1255.86,1032.44 L1259.22,1031.34 L1262.58,1030.21 L1265.94,1029.05 L1269.30,1027.86 L1272.66,1026.63 L1276.02,1025.37 L1279.39,1024.08 L1282.75,1022.75 L1286.11,1021.39 L1289.47,1019.99 L1292.83,1018.55 L1296.19,1017.07 L1299.55,1015.56 L1302.91,1014.00 L1306.27,1012.41 L1309.63,1010.77 L1312.99,1009.10 L1316.35,1007.38 L1319.71,1005.63 L1323.08,1003.83 L1326.44,1001.99 L1329.80,1000.11 L1333.16,998.19 L1336.52,996.23 L1339.88,994.23 L1343.24,992.19 L1346.60,990.12 L1349.96,988.01 L1353.32,985.86 L1356.68,983.69 L1360.04,981.48 L1363.41,979.25 L1366.77,977.00 L1370.13,974.72 L1373.49,972.43 L1376.85,970.13 L1380.21,967.82 L1383.57,965.51 L1386.93,963.20 L1390.29,960.90 L1393.65,958.61 L1397.01,956.35 L1400.37,954.11 L1403.73,951.90 L1407.10,949.73 L1410.46,947.61 L1413.82,945.54 L1417.18,943.52 L1420.54,941.56 L1423.90,939.67 L1427.26,937.84 L1430.62,936.09 L1433.98,934.41 L1437.34,932.81 L1440.70,931.29 L1444.06,929.84 L1447.42,928.48 L1450.79,927.19 L1454.15,925.98 L1457.51,924.85 L1460.87,923.79 L1464.23,922.80 L1467.59,921.88 L1470.95,921.03 L1474.31,920.24 L1477.67,919.51 L1481.03,918.84 L1484.39,918.22 L1487.75,917.65 L1491.12,917.12 L1494.48,916.65 L1497.84,916.21 L1501.20,915.81 L1504.56,915.44 L1507.92,915.10 L1511.28,914.80 L1514.64,914.52 L1518.00,914.27 L1521.36,914.04 L1524.72,913.83 L1528.08,913.64 L1531.44,913.47 L1534.81,913.31 L1538.17,913.17 L1541.53,913.04 L1544.89,912.92 L1548.25,912.82 L1551.61,912.72 L1554.97,912.64 L1558.33,912.56 L1561.69,912.49 L1565.05,912.42 L1568.41,912.37 L1571.77,912.31 L1575.13,912.27 L1578.50,912.22 L1581.86,912.18 L1585.22,912.15 L1588.58,912.12 L1591.94,912.09 L1595.30,912.06 L1598.66,912.04 L1602.02,912.02 L1605.38,912.00 L1608.74,911.98 L1612.10,911.97 L1615.46,911.95 L1618.83,911.94 L1622.19,911.93 L1625.55,911.92 L1628.91,911.91 L1632.27,911.90 L1635.63,911.89 L1638.99,911.88 L1642.35,911.88 L1645.71,911.87 L1649.07,911.87 L1652.43,911.86 L1655.79,911.86 L1659.15,911.86 L1662.52,911.85 L1665.88,911.85 L1669.24,911.85 L1672.60,911.84 L1675.96,911.84 L1679.32,911.84 L1682.68,911.84 L1686.04,911.84 L1689.40,911.83 L1692.76,911.83 L1696.12,911.83 L1699.48,911.83 L1702.84,911.83 L1706.21,911.83 L1709.57,911.83 L1712.93,911.83 L1716.29,911.83 L1719.65,911.83 L1723.01,911.83 L1726.37,911.82 L1729.73,911.82 L1733.09,911.82 L1736.45,911.82 L1739.81,911.82 L1743.17,911.82 L1746.54,911.82 L1749.90,911.82 L1753.26,911.82 L1756.62,911.82 L1759.98,911.82 L1763.34,911.82 L1766.70,911.82" fill="none" stroke="#000" stroke-width="2.6"/>
<line x1="1094.54" y1="1034.30" x2="1094.54" y2="1093.50" stroke="#000" stroke-width="2.4"/>
<line x1="1089.14" y1="1034.30" x2="1099.94" y2="1034.30" stroke="#000" stroke-width="2.4"/>
<line x1="1089.14" y1="1093.50" x2="1099.94" y2="1093.50" stroke="#000" stroke-width="2.4"/>
<line x1="1129.92" y1="1032.20" x2="1129.92" y2="1087.50" stroke="#000" stroke-width="2.4"/>
<line x1="1124.52" y1="1032.20" x2="1135.32" y2="1032.20" stroke="#000" stroke-width="2.4"/>
<line x1="1124.52" y1="1087.50" x2="1135.32" y2="1087.50" stroke="#000" stroke-width="2.4"/>
<line x1="1165.30" y1="1027.70" x2="1165.30" y2="1090.30" stroke="#000" stroke-width="2.4"/>
<line x1="1159.90" y1="1027.70" x2="1170.70" y2="1027.70" stroke="#000" stroke-width="2.4"/>
<line x1="1159.90" y1="1090.30" x2="1170.70" y2="1090.30" stroke="#000" stroke-width="2.4"/>
<line x1="1200.67" y1="1014.70" x2="1200.67" y2="1079.90" stroke="#000" stroke-width="2.4"/>
<line x1="1195.27" y1="1014.70" x2="1206.07" y2="1014.70" stroke="#000" stroke-width="2.4"/>
<line x1="1195.27" y1="1079.90" x2="1206.07" y2="1079.90" stroke="#000" stroke-width="2.4"/>
<line x1="1236.05" y1="1003.30" x2="1236.05" y2="1081.00" stroke="#000" stroke-width="2.4"/>
<line x1="1230.65" y1="1003.30" x2="1241.45" y2="1003.30" stroke="#000" stroke-width="2.4"/>
<line x1="1230.65" y1="1081.00" x2="1241.45" y2="1081.00" stroke="#000" stroke-width="2.4"/>
<line x1="1271.43" y1="992.00" x2="1271.43" y2="1048.00" stroke="#000" stroke-width="2.4"/>
<line x1="1266.03" y1="992.00" x2="1276.83" y2="992.00" stroke="#000" stroke-width="2.4"/>
<line x1="1266.03" y1="1048.00" x2="1276.83" y2="1048.00" stroke="#000" stroke-width="2.4"/>
<line x1="1306.80" y1="969.00" x2="1306.80" y2="1031.00" stroke="#000" stroke-width="2.4"/>
<line x1="1301.40" y1="969.00" x2="1312.20" y2="969.00" stroke="#000" stroke-width="2.4"/>
<line x1="1301.40" y1="1031.00" x2="1312.20" y2="1031.00" stroke="#000" stroke-width="2.4"/>
<line x1="1342.18" y1="950.40" x2="1342.18" y2="1014.50" stroke="#000" stroke-width="2.4"/>
<line x1="1336.78" y1="950.40" x2="1347.58" y2="950.40" stroke="#000" stroke-width="2.4"/>
<line x1="1336.78" y1="1014.50" x2="1347.58" y2="1014.50" stroke="#000" stroke-width="2.4"/>
<line x1="1377.56" y1="933.50" x2="1377.56" y2="998.70" stroke="#000" stroke-width="2.4"/>
<line x1="1372.16" y1="933.50" x2="1382.96" y2="933.50" stroke="#000" stroke-width="2.4"/>
<line x1="1372.16" y1="998.70" x2="1382.96" y2="998.70" stroke="#000" stroke-width="2.4"/>
<line x1="1412.93" y1="914.70" x2="1412.93" y2="989.70" stroke="#000" stroke-width="2.4"/>
<line x1="1407.53" y1="914.70" x2="1418.33" y2="914.70" stroke="#000" stroke-width="2.4"/>
<line x1="1407.53" y1="989.70" x2="1418.33" y2="989.70" stroke="#000" stroke-width="2.4"/>
<line x1="1448.31" y1="910.20" x2="1448.31" y2="985.90" stroke="#000" stroke-width="2.4"/>
<line x1="1442.91" y1="910.20" x2="1453.71" y2="910.20" stroke="#000" stroke-width="2.4"/>
<line x1="1442.91" y1="985.90" x2="1453.71" y2="985.90" stroke="#000" stroke-width="2.4"/>
<line x1="1483.69" y1="895.10" x2="1483.69" y2="964.40" stroke="#000" stroke-width="2.4"/>
<line x1="1478.29" y1="895.10" x2="1489.09" y2="895.10" stroke="#000" stroke-width="2.4"/>
<line x1="1478.29" y1="964.40" x2="1489.09" y2="964.40" stroke="#000" stroke-width="2.4"/>
<line x1="1519.06" y1="880.60" x2="1519.06" y2="953.20" stroke="#000" stroke-width="2.4"/>
<line x1="1513.66" y1="880.60" x2="1524.46" y2="880.60" stroke="#000" stroke-width="2.4"/>
<line x1="1513.66" y1="953.20" x2="1524.46" y2="953.20" stroke="#000" stroke-width="2.4"/>
<line x1="1554.44" y1="867.70" x2="1554.44" y2="962.20" stroke="#000" stroke-width="2.4"/>
<line x1="1549.04" y1="867.70" x2="1559.84" y2="867.70" stroke="#000" stroke-width="2.4"/>
<line x1="1549.04" y1="962.20" x2="1559.84" y2="962.20" stroke="#000" stroke-width="2.4"/>
<line x1="1589.82" y1="879.00" x2="1589.82" y2="952.40" stroke="#000" stroke-width="2.4"/>
<line x1="1584.42" y1="879.00" x2="1595.22" y2="879.00" stroke="#000" stroke-width="2.4"/>
<line x1="1584.42" y1="952.40" x2="1595.22" y2="952.40" stroke="#000" stroke-width="2.4"/>
<line x1="1625.19" y1="870.00" x2="1625.19" y2="949.00" stroke="#000" stroke-width="2.4"/>
<line x1="1619.79" y1="870.00" x2="1630.59" y2="870.00" stroke="#000" stroke-width="2.4"/>
<line x1="1619.79" y1="949.00" x2="1630.59" y2="949.00" stroke="#000" stroke-width="2.4"/>
<line x1="1660.57" y1="872.90" x2="1660.57" y2="969.70" stroke="#000" stroke-width="2.4"/>
<line x1="1655.17" y1="872.90" x2="1665.97" y2="872.90" stroke="#000" stroke-width="2.4"/>
<line x1="1655.17" y1="969.70" x2="1665.97" y2="969.70" stroke="#000" stroke-width="2.4"/>
<line x1="1695.95" y1="873.10" x2="1695.95" y2="947.80" stroke="#000" stroke-width="2.4"/>
<line x1="1690.55" y1="873.10" x2="1701.35" y2="873.10" stroke="#000" stroke-width="2.4"/>
<line x1="1690.55" y1="947.80" x2="1701.35" y2="947.80" stroke="#000" stroke-width="2.4"/>
<line x1="1731.32" y1="867.00" x2="1731.32" y2="928.10" stroke="#000" stroke-width="2.4"/>
<line x1="1725.92" y1="867.00" x2="1736.72" y2="867.00" stroke="#000" stroke-width="2.4"/>
<line x1="1725.92" y1="928.10" x2="1736.72" y2="928.10" stroke="#000" stroke-width="2.4"/>
<line x1="1766.70" y1="827.40" x2="1766.70" y2="954.00" stroke="#000" stroke-width="2.4"/>
<line x1="1761.30" y1="827.40" x2="1772.10" y2="827.40" stroke="#000" stroke-width="2.4"/>
<line x1="1761.30" y1="954.00" x2="1772.10" y2="954.00" stroke="#000" stroke-width="2.4"/>
<rect x="1089.94" y="1059.60" width="9.2" height="9.2" fill="#000"/>
<rect x="1125.32" y="1055.10" width="9.2" height="9.2" fill="#000"/>
<rect x="1160.70" y="1052.80" width="9.2" height="9.2" fill="#000"/>
<rect x="1196.07" y="1042.00" width="9.2" height="9.2" fill="#000"/>
<rect x="1231.45" y="1037.90" width="9.2" height="9.2" fill="#000"/>
<rect x="1266.83" y="1014.90" width="9.2" height="9.2" fill="#000"/>
<rect x="1302.20" y="995.40" width="9.2" height="9.2" fill="#000"/>
<rect x="1337.58" y="977.70" width="9.2" height="9.2" fill="#000"/>
<rect x="1372.96" y="961.50" width="9.2" height="9.2" fill="#000"/>
<rect x="1408.33" y="947.40" width="9.2" height="9.2" fill="#000"/>
<rect x="1443.71" y="943.20" width="9.2" height="9.2" fill="#000"/>
<rect x="1479.09" y="925.00" width="9.2" height="9.2" fill="#000"/>
<rect x="1514.46" y="912.60" width="9.2" height="9.2" fill="#000"/>
<rect x="1549.84" y="910.80" width="9.2" height="9.2" fill="#000"/>
<rect x="1585.22" y="910.80" width="9.2" height="9.2" fill="#000"/>
<rect x="1620.59" y="903.60" width="9.2" height="9.2" fill="#000"/>
<rect x="1655.97" y="917.00" width="9.2" height="9.2" fill="#000"/>
<rect x="1691.35" y="904.70" width="9.2" height="9.2" fill="#000"/>
<rect x="1726.72" y="892.80" width="9.2" height="9.2" fill="#000"/>
<rect x="1762.10" y="887.10" width="9.2" height="9.2" fill="#000"/>
<path d="M1094.54,1064.92 L1097.90,1064.67 L1101.26,1064.41 L1104.62,1064.15 L1107.99,1063.88 L1111.35,1063.60 L1114.71,1063.31 L1118.07,1063.01 L1121.43,1062.71 L1124.79,1062.39 L1128.15,1062.07 L1131.51,1061.74 L1134.87,1061.39 L1138.23,1061.04 L1141.59,1060.68 L1144.95,1060.30 L1148.31,1059.92 L1151.68,1059.52 L1155.04,1059.11 L1158.40,1058.69 L1161.76,1058.25 L1165.12,1057.81 L1168.48,1057.35 L1171.84,1056.87 L1175.20,1056.39 L1178.56,1055.89 L1181.92,1055.37 L1185.28,1054.84 L1188.64,1054.29 L1192.00,1053.72 L1195.37,1053.14 L1198.73,1052.55 L1202.09,1051.93 L1205.45,1051.30 L1208.81,1050.64 L1212.17,1049.97 L1215.53,1049.28 L1218.89,1048.57 L1222.25,1047.83 L1225.61,1047.08 L1228.97,1046.30 L1232.33,1045.50 L1235.70,1044.68 L1239.06,1043.83 L1242.42,1042.96 L1245.78,1042.06 L1249.14,1041.14 L1252.50,1040.18 L1255.86,1039.21 L1259.22,1038.20 L1262.58,1037.16 L1265.94,1036.09 L1269.30,1035.00 L1272.66,1033.87 L1276.02,1032.71 L1279.39,1031.51 L1282.75,1030.28 L1286.11,1029.02 L1289.47,1027.72 L1292.83,1026.39 L1296.19,1025.02 L1299.55,1023.61 L1302.91,1022.16 L1306.27,1020.67 L1309.63,1019.15 L1312.99,1017.58 L1316.35,1015.97 L1319.71,1014.33 L1323.08,1012.64 L1326.44,1010.90 L1329.80,1009.13 L1333.16,1007.31 L1336.52,1005.46 L1339.88,1003.56 L1343.24,1001.62 L1346.60,999.64 L1349.96,997.62 L1353.32,995.56 L1356.68,993.47 L1360.04,991.34 L1363.41,989.18 L1366.77,986.99 L1370.13,984.77 L1373.49,982.52 L1376.85,980.26 L1380.21,977.98 L1383.57,975.69 L1386.93,973.39 L1390.29,971.08 L1393.65,968.79 L1397.01,966.50 L1400.37,964.22 L1403.73,961.97 L1407.10,959.74 L1410.46,957.54 L1413.82,955.39 L1417.18,953.28 L1420.54,951.23 L1423.90,949.23 L1427.26,947.29 L1430.62,945.42 L1433.98,943.61 L1437.34,941.89 L1440.70,940.23 L1444.06,938.66 L1447.42,937.17 L1450.79,935.75 L1454.15,934.42 L1457.51,933.16 L1460.87,931.99 L1464.23,930.88 L1467.59,929.86 L1470.95,928.90 L1474.31,928.01 L1477.67,927.19 L1481.03,926.43 L1484.39,925.73 L1487.75,925.09 L1491.12,924.50 L1494.48,923.95 L1497.84,923.45 L1501.20,923.00 L1504.56,922.58 L1507.92,922.20 L1511.28,921.86 L1514.64,921.54 L1518.00,921.25 L1521.36,920.99 L1524.72,920.76 L1528.08,920.54 L1531.44,920.34 L1534.81,920.17 L1538.17,920.01 L1541.53,919.86 L1544.89,919.73 L1548.25,919.61 L1551.61,919.50 L1554.97,919.41 L1558.33,919.32 L1561.69,919.24 L1565.05,919.17 L1568.41,919.10 L1571.77,919.04 L1575.13,918.99 L1578.50,918.94 L1581.86,918.90 L1585.22,918.86 L1588.58,918.82 L1591.94,918.79 L1595.30,918.76 L1598.66,918.74 L1602.02,918.71 L1605.38,918.69 L1608.74,918.67 L1612.10,918.66 L1615.46,918.64 L1618.83,918.63 L1622.19,918.61 L1625.55,918.60 L1628.91,918.59 L1632.27,918.58 L1635.63,918.57 L1638.99,918.57 L1642.35,918.56 L1645.71,918.55 L1649.07,918.55 L1652.43,918.54 L1655.79,918.54 L1659.15,918.53 L1662.52,918.53 L1665.88,918.53 L1669.24,918.52 L1672.60,918.52 L1675.96,918.52 L1679.32,918.52 L1682.68,918.52 L1686.04,918.51 L1689.40,918.51 L1692.76,918.51 L1696.12,918.51 L1699.48,918.51 L1702.84,918.51 L1706.21,918.51 L1709.57,918.51 L1712.93,918.50 L1716.29,918.50 L1719.65,918.50 L1723.01,918.50 L1726.37,918.50 L1729.73,918.50 L1733.09,918.50 L1736.45,918.50 L1739.81,918.50 L1743.17,918.50 L1746.54,918.50 L1749.90,918.50 L1753.26,918.50 L1756.62,918.50 L1759.98,918.50 L1763.34,918.50 L1766.70,918.50" fill="none" stroke="#C040C0" stroke-width="2.6"/>
<line x1="1094.54" y1="1055.20" x2="1094.54" y2="1091.70" stroke="#C040C0" stroke-width="2.4"/>
<line x1="1089.14" y1="1055.20" x2="1099.94" y2="1055.20" stroke="#C040C0" stroke-width="2.4"/>
<line x1="1089.14" y1="1091.70" x2="1099.94" y2="1091.70" stroke="#C040C0" stroke-width="2.4"/>
<line x1="1129.92" y1="1053.20" x2="1129.92" y2="1082.80" stroke="#C040C0" stroke-width="2.4"/>
<line x1="1124.52" y1="1053.20" x2="1135.32" y2="1053.20" stroke="#C040C0" stroke-width="2.4"/>
<line x1="1124.52" y1="1082.80" x2="1135.32" y2="1082.80" stroke="#C040C0" stroke-width="2.4"/>
<line x1="1165.30" y1="1043.40" x2="1165.30" y2="1082.80" stroke="#C040C0" stroke-width="2.4"/>
<line x1="1159.90" y1="1043.40" x2="1170.70" y2="1043.40" stroke="#C040C0" stroke-width="2.4"/>
<line x1="1159.90" y1="1082.80" x2="1170.70" y2="1082.80" stroke="#C040C0" stroke-width="2.4"/>
<line x1="1200.67" y1="1030.90" x2="1200.67" y2="1073.40" stroke="#C040C0" stroke-width="2.4"/>
<line x1="1195.27" y1="1030.90" x2="1206.07" y2="1030.90" stroke="#C040C0" stroke-width="2.4"/>
<line x1="1195.27" y1="1073.40" x2="1206.07" y2="1073.40" stroke="#C040C0" stroke-width="2.4"/>
<line x1="1236.05" y1="1020.80" x2="1236.05" y2="1063.10" stroke="#C040C0" stroke-width="2.4"/>
<line x1="1230.65" y1="1020.80" x2="1241.45" y2="1020.80" stroke="#C040C0" stroke-width="2.4"/>
<line x1="1230.65" y1="1063.10" x2="1241.45" y2="1063.10" stroke="#C040C0" stroke-width="2.4"/>
<line x1="1271.43" y1="1007.40" x2="1271.43" y2="1041.50" stroke="#C040C0" stroke-width="2.4"/>
<line x1="1266.03" y1="1007.40" x2="1276.83" y2="1007.40" stroke="#C040C0" stroke-width="2.4"/>
<line x1="1266.03" y1="1041.50" x2="1276.83" y2="1041.50" stroke="#C040C0" stroke-width="2.4"/>
<line x1="1306.80" y1="994.40" x2="1306.80" y2="1031.40" stroke="#C040C0" stroke-width="2.4"/>
<line x1="1301.40" y1="994.40" x2="1312.20" y2="994.40" stroke="#C040C0" stroke-width="2.4"/>
<line x1="1301.40" y1="1031.40" x2="1312.20" y2="1031.40" stroke="#C040C0" stroke-width="2.4"/>
<line x1="1342.18" y1="967.60" x2="1342.18" y2="1011.90" stroke="#C040C0" stroke-width="2.4"/>
<line x1="1336.78" y1="967.60" x2="1347.58" y2="967.60" stroke="#C040C0" stroke-width="2.4"/>
<line x1="1336.78" y1="1011.90" x2="1347.58" y2="1011.90" stroke="#C040C0" stroke-width="2.4"/>
<line x1="1377.56" y1="958.20" x2="1377.56" y2="999.10" stroke="#C040C0" stroke-width="2.4"/>
<line x1="1372.16" y1="958.20" x2="1382.96" y2="958.20" stroke="#C040C0" stroke-width="2.4"/>
<line x1="1372.16" y1="999.10" x2="1382.96" y2="999.10" stroke="#C040C0" stroke-width="2.4"/>
<line x1="1412.93" y1="944.80" x2="1412.93" y2="978.00" stroke="#C040C0" stroke-width="2.4"/>
<line x1="1407.53" y1="944.80" x2="1418.33" y2="944.80" stroke="#C040C0" stroke-width="2.4"/>
<line x1="1407.53" y1="978.00" x2="1418.33" y2="978.00" stroke="#C040C0" stroke-width="2.4"/>
<line x1="1448.31" y1="937.10" x2="1448.31" y2="973.50" stroke="#C040C0" stroke-width="2.4"/>
<line x1="1442.91" y1="937.10" x2="1453.71" y2="937.10" stroke="#C040C0" stroke-width="2.4"/>
<line x1="1442.91" y1="973.50" x2="1453.71" y2="973.50" stroke="#C040C0" stroke-width="2.4"/>
<line x1="1483.69" y1="923.60" x2="1483.69" y2="959.70" stroke="#C040C0" stroke-width="2.4"/>
<line x1="1478.29" y1="923.60" x2="1489.09" y2="923.60" stroke="#C040C0" stroke-width="2.4"/>
<line x1="1478.29" y1="959.70" x2="1489.09" y2="959.70" stroke="#C040C0" stroke-width="2.4"/>
<line x1="1519.06" y1="911.20" x2="1519.06" y2="943.10" stroke="#C040C0" stroke-width="2.4"/>
<line x1="1513.66" y1="911.20" x2="1524.46" y2="911.20" stroke="#C040C0" stroke-width="2.4"/>
<line x1="1513.66" y1="943.10" x2="1524.46" y2="943.10" stroke="#C040C0" stroke-width="2.4"/>
<line x1="1554.44" y1="907.90" x2="1554.44" y2="941.40" stroke="#C040C0" stroke-width="2.4"/>
<line x1="1549.04" y1="907.90" x2="1559.84" y2="907.90" stroke="#C040C0" stroke-width="2.4"/>
<line x1="1549.04" y1="941.40" x2="1559.84" y2="941.40" stroke="#C040C0" stroke-width="2.4"/>
<line x1="1589.82" y1="903.10" x2="1589.82" y2="938.10" stroke="#C040C0" stroke-width="2.4"/>
<line x1="1584.42" y1="903.10" x2="1595.22" y2="903.10" stroke="#C040C0" stroke-width="2.4"/>
<line x1="1584.42" y1="938.10" x2="1595.22" y2="938.10" stroke="#C040C0" stroke-width="2.4"/>
<line x1="1625.19" y1="897.80" x2="1625.19" y2="935.30" stroke="#C040C0" stroke-width="2.4"/>
<line x1="1619.79" y1="897.80" x2="1630.59" y2="897.80" stroke="#C040C0" stroke-width="2.4"/>
<line x1="1619.79" y1="935.30" x2="1630.59" y2="935.30" stroke="#C040C0" stroke-width="2.4"/>
<line x1="1660.57" y1="896.20" x2="1660.57" y2="942.30" stroke="#C040C0" stroke-width="2.4"/>
<line x1="1655.17" y1="896.20" x2="1665.97" y2="896.20" stroke="#C040C0" stroke-width="2.4"/>
<line x1="1655.17" y1="942.30" x2="1665.97" y2="942.30" stroke="#C040C0" stroke-width="2.4"/>
<line x1="1695.95" y1="894.70" x2="1695.95" y2="930.60" stroke="#C040C0" stroke-width="2.4"/>
<line x1="1690.55" y1="894.70" x2="1701.35" y2="894.70" stroke="#C040C0" stroke-width="2.4"/>
<line x1="1690.55" y1="930.60" x2="1701.35" y2="930.60" stroke="#C040C0" stroke-width="2.4"/>
<line x1="1731.32" y1="891.10" x2="1731.32" y2="917.90" stroke="#C040C0" stroke-width="2.4"/>
<line x1="1725.92" y1="891.10" x2="1736.72" y2="891.10" stroke="#C040C0" stroke-width="2.4"/>
<line x1="1725.92" y1="917.90" x2="1736.72" y2="917.90" stroke="#C040C0" stroke-width="2.4"/>
<line x1="1766.70" y1="886.90" x2="1766.70" y2="929.60" stroke="#C040C0" stroke-width="2.4"/>
<line x1="1761.30" y1="886.90" x2="1772.10" y2="886.90" stroke="#C040C0" stroke-width="2.4"/>
<line x1="1761.30" y1="929.60" x2="1772.10" y2="929.60" stroke="#C040C0" stroke-width="2.4"/>
<circle cx="1094.54" cy="1073.50" r="4.6" fill="#C040C0"/>
<circle cx="1129.92" cy="1068.10" r="4.6" fill="#C040C0"/>
<circle cx="1165.30" cy="1062.60" r="4.6" fill="#C040C0"/>
<circle cx="1200.67" cy="1052.30" r="4.6" fill="#C040C0"/>
<circle cx="1236.05" cy="1042.10" r="4.6" fill="#C040C0"/>
<circle cx="1271.43" cy="1024.20" r="4.6" fill="#C040C0"/>
<circle cx="1306.80" cy="1013.00" r="4.6" fill="#C040C0"/>
<circle cx="1342.18" cy="989.80" r="4.6" fill="#C040C0"/>
<circle cx="1377.56" cy="978.60" r="4.6" fill="#C040C0"/>
<circle cx="1412.93" cy="961.10" r="4.6" fill="#C040C0"/>
<circle cx="1448.31" cy="955.10" r="4.6" fill="#C040C0"/>
<circle cx="1483.69" cy="941.70" r="4.6" fill="#C040C0"/>
<circle cx="1519.06" cy="927.00" r="4.6" fill="#C040C0"/>
<circle cx="1554.44" cy="924.90" r="4.6" fill="#C040C0"/>
<circle cx="1589.82" cy="920.30" r="4.6" fill="#C040C0"/>
<circle cx="1625.19" cy="916.30" r="4.6" fill="#C040C0"/>
<circle cx="1660.57" cy="919.80" r="4.6" fill="#C040C0"/>
<circle cx="1695.95" cy="912.00" r="4.6" fill="#C040C0"/>
<circle cx="1731.32" cy="904.90" r="4.6" fill="#C040C0"/>
<circle cx="1766.70" cy="908.10" r="4.6" fill="#C040C0"/>
</svg>
</body></html>
